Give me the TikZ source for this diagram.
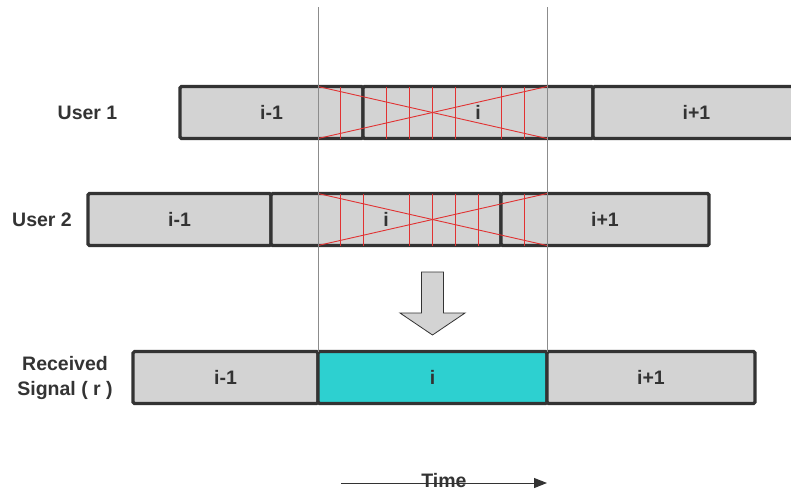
\documentclass[tikz,border=0pt]{standalone}
\usepackage{fontspec}
\setmainfont{Liberation Sans}
\usetikzlibrary{arrows.meta}
\definecolor{slotgray}{RGB}{211,211,211}
\definecolor{slotcyan}{RGB}{45,208,208}
\definecolor{framegray}{RGB}{51,51,51}
\definecolor{overlapred}{RGB}{225,50,50}

\begin{document}
\begin{tikzpicture}[
  x=1pt, y=-1pt,
  slot/.style={rectangle, rounded corners=1.5pt, draw=framegray, line width=3.2pt, fill=#1, minimum height=52pt, inner sep=0pt, outer sep=0pt, anchor=west, font=\fontsize{19.5}{24}\selectfont\bfseries, text=framegray},
  slot/.default=slotgray,
  rowlabel/.style={font=\fontsize{19.5}{25}\selectfont\bfseries, text=framegray, align=center},
  guide/.style={draw=black!45, line width=0.9pt},
  cut/.style={draw=overlapred, line width=0.9pt},
  timearr/.style={-{Triangle[length=13pt, width=10pt]}, line width=1pt, color=framegray}
]
\useasboundingbox (0,0) rectangle (791,491);

% User 1
\node[rowlabel] (user1) at (87.5,112.5) {User 1};
\node[slot, minimum width=183pt] (u1prev) at (180,112.5) {i-1};
\node[slot, minimum width=230pt] (u1cur) at (363,112.5) {i};
\node[slot, minimum width=207pt] (u1next) at (593,112.5) {i+1};

% User 2
\node[rowlabel] (user2) at (42,219.5) {User 2};
\node[slot, minimum width=183pt] (u2prev) at (88,219.5) {i-1};
\node[slot, minimum width=230pt] (u2cur) at (271,219.5) {i};
\node[slot, minimum width=208pt] (u2next) at (501,219.5) {i+1};

% Received signal
\node[rowlabel] (recv) at (65,377.5) {Received\\Signal ( r )};
\node[slot, minimum width=185pt] (rprev) at (133,377.5) {i-1};
\node[slot=slotcyan, minimum width=229pt] (rcur) at (318,377.5) {i};
\node[slot, minimum width=208pt] (rnext) at (547,377.5) {i+1};

% Symbol window
\coordinate (gl) at (318,7);
\coordinate (gr) at (547,7);

% Overlap marks
\foreach \k in {1,3,4,5,6,8,9}
  \draw[cut] ({318+\k*22.9},0 |- u1cur.north) -- ({318+\k*22.9},0 |- u1cur.south);
\draw[cut] (gl |- u1cur.north) -- (gr |- u1cur.south);
\draw[cut] (gl |- u1cur.south) -- (gr |- u1cur.north);
\foreach \k in {1,2,4,5,6,7,9}
  \draw[cut] ({318+\k*22.9},0 |- u2cur.north) -- ({318+\k*22.9},0 |- u2cur.south);
\draw[cut] (gl |- u2cur.north) -- (gr |- u2cur.south);
\draw[cut] (gl |- u2cur.south) -- (gr |- u2cur.north);

\draw[guide] (gl) -- (gl |- rcur.north);
\draw[guide] (gr) -- (gr |- rcur.north);

% Sum arrow
\draw[fill=slotgray, draw=framegray, line width=0.8pt] (421.5,272) -- (443.5,272) -- (443.5,313) -- (465,313) -- (432.5,335) -- (400,313) -- (421.5,313) -- cycle;

% Time axis
\coordinate (tstart) at (341,483);
\coordinate (tend) at (547,483);
\node[rowlabel, inner sep=1pt] (time) at (444,481) {Time};
\draw[timearr] (tstart) -- (tend);

\end{tikzpicture}
\end{document}
